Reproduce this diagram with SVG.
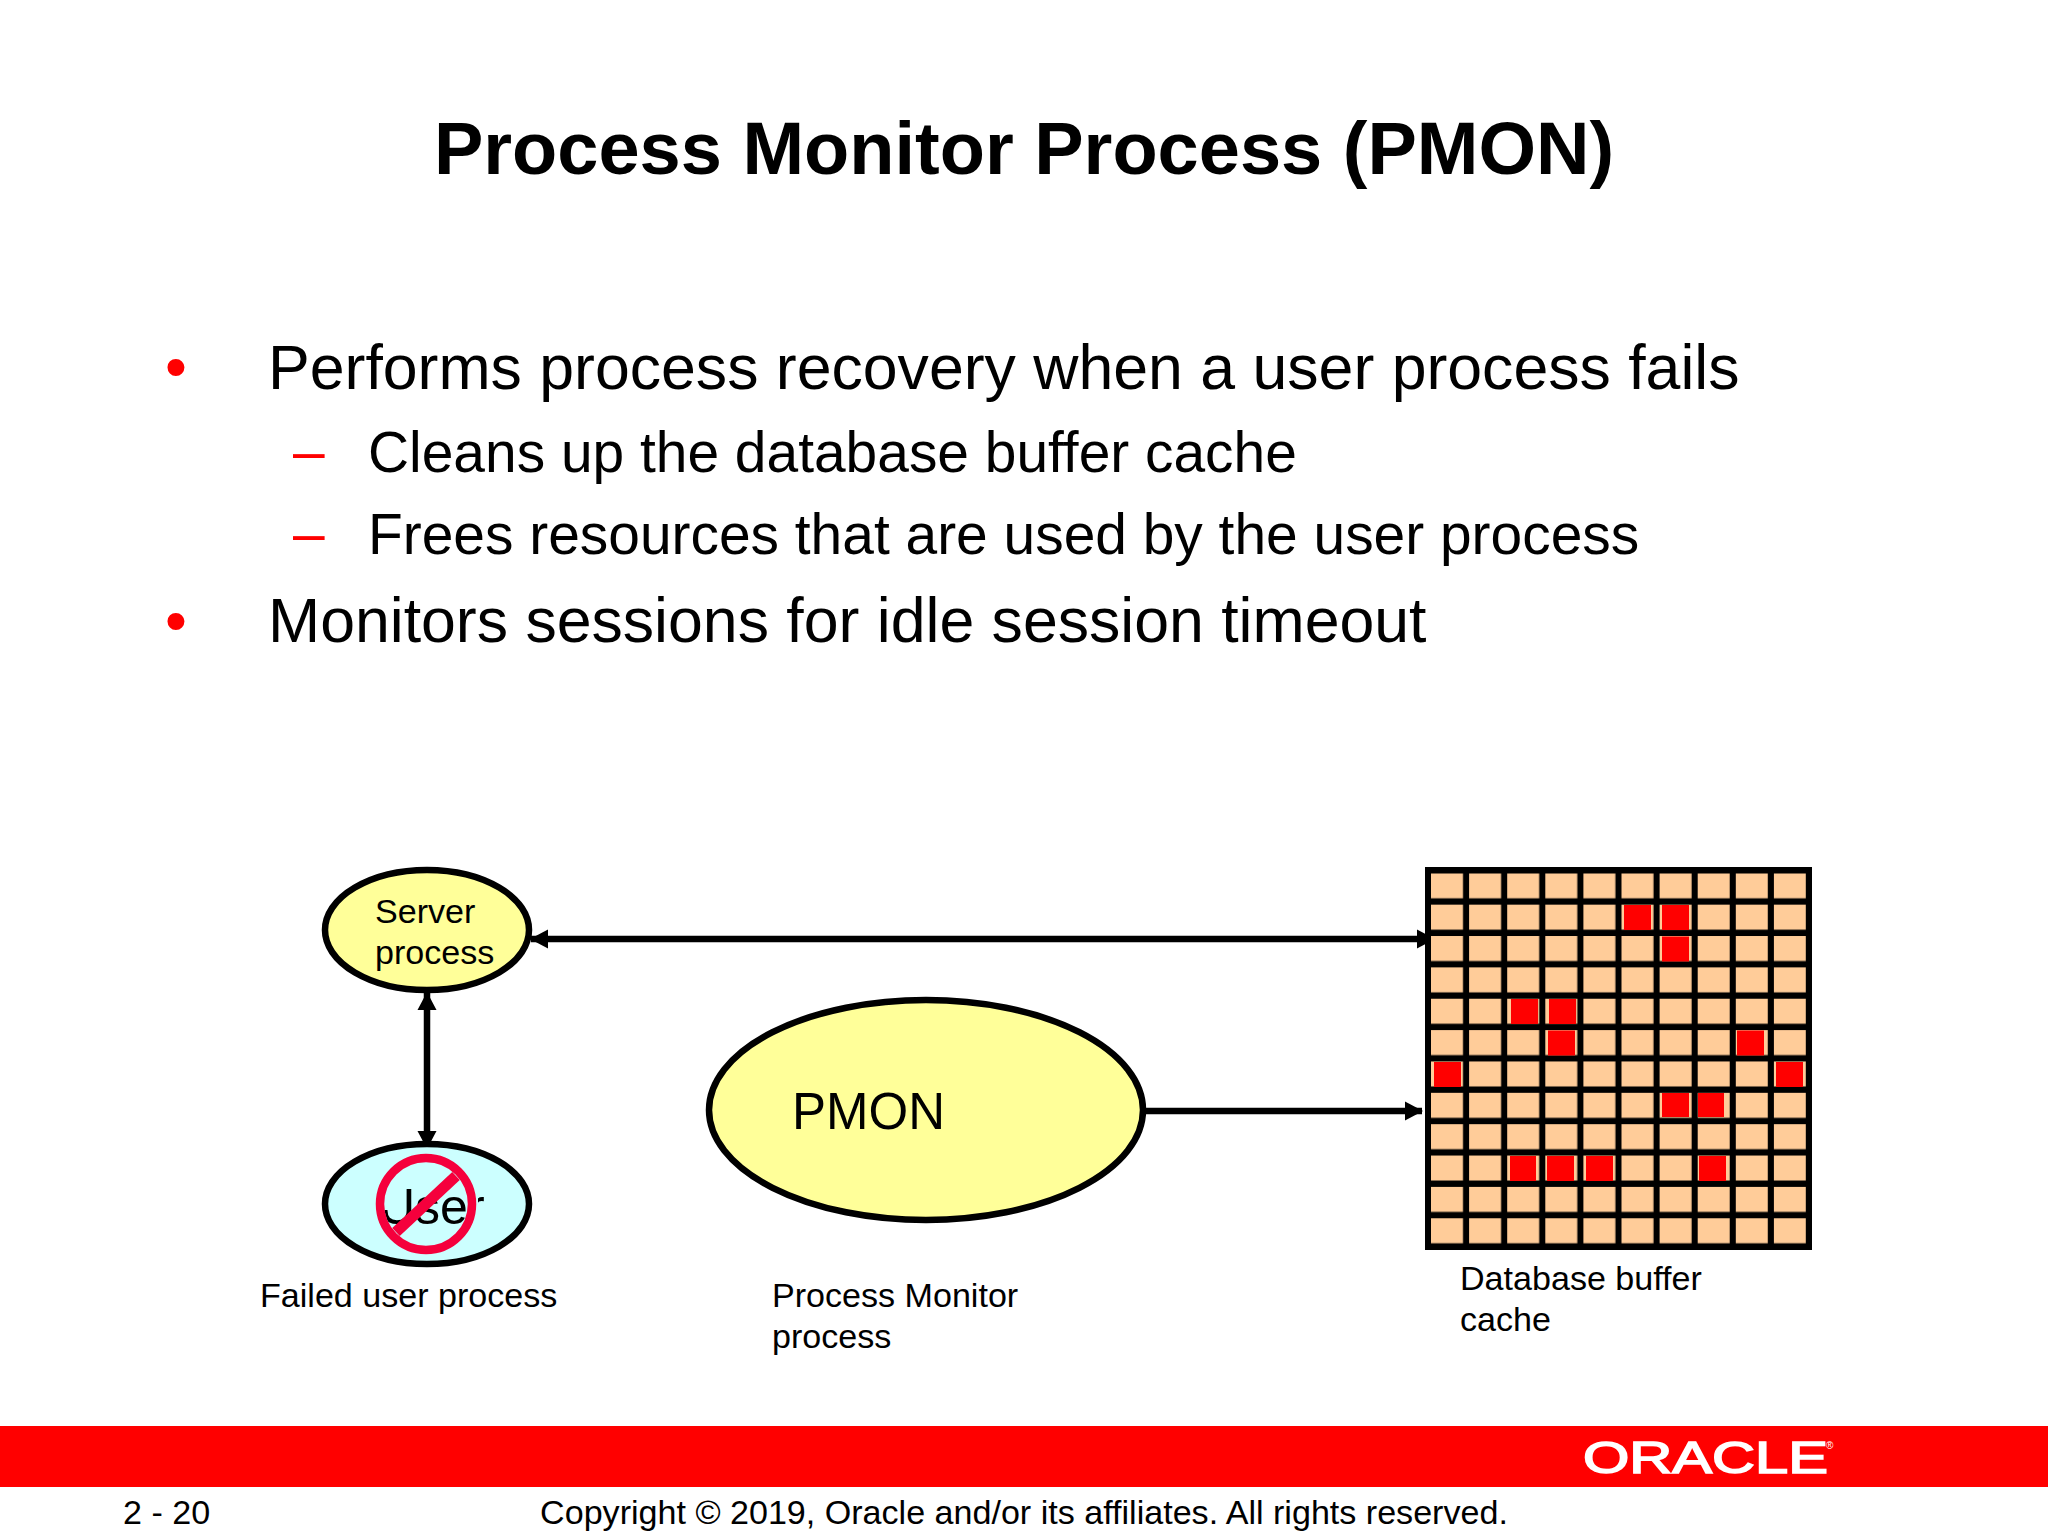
<svg xmlns="http://www.w3.org/2000/svg" width="2048" height="1536" viewBox="0 0 2048 1536">
<defs>
<style>
text{font-family:"Liberation Sans",Arial,sans-serif;fill:#000}
.title{font-size:74px;font-weight:bold}
.b1{font-size:62.6px}
.b2{font-size:56.9px}
.red{fill:#f00}
.lab{font-size:34.1px}
.node{stroke:#000;stroke-width:6.5}
.conn{stroke:#000;fill:none;stroke-width:6.5}
.r{fill:#f00}
</style>
<marker id="ah" markerUnits="userSpaceOnUse" markerWidth="20" markerHeight="22" refX="17" refY="11" orient="auto-start-reverse"><path d="M0 1.5L18 11L0 20.5Z" fill="#000"/></marker>
<pattern id="cells" patternUnits="userSpaceOnUse" x="1431" y="873.3" width="38.1" height="31.36"><rect width="32" height="25" fill="#ffcc99"/></pattern>
</defs>
<rect width="2048" height="1536" fill="#fff"/>
<text class="title" x="1024" y="174" text-anchor="middle">Process Monitor Process (PMON)</text>
<g id="bullets">
<text class="b1 red" x="165" y="388">•</text><text class="b1" x="268" y="388.5">Performs process recovery when a user process fails</text>
<text class="b2 red" x="293" y="471">–</text><text class="b2" x="368" y="471.5">Cleans up the database buffer cache</text>
<text class="b2 red" x="293" y="553">–</text><text class="b2" x="368" y="553.5">Frees resources that are used by the user process</text>
<text class="b1 red" x="165" y="642">•</text><text class="b1" x="268" y="642">Monitors sessions for idle session timeout</text>
</g>
<g id="connectors">
<line class="conn" x1="531" y1="939" x2="1434" y2="939" marker-start="url(#ah)" marker-end="url(#ah)"/>
<line class="conn" x1="427" y1="993" x2="427" y2="1148" marker-start="url(#ah)" marker-end="url(#ah)"/>
<line class="conn" x1="1145" y1="1111" x2="1422" y2="1111" marker-end="url(#ah)"/>
</g>
<g id="server-process">
<ellipse class="node" cx="427" cy="930" rx="102" ry="60" fill="#ffff99"/>
<text class="lab" x="375" y="923">Server</text><text class="lab" x="375" y="964">process</text>
</g>
<g id="user-process">
<ellipse cx="427" cy="1204" rx="102" ry="60" fill="#ccffff"/>
<text x="379" y="1224" style="font-size:50px">User</text>
<path fill="#ccffff" fill-rule="evenodd" d="M376 1152H478V1256H376ZM426 1162a42 42 0 1 0 .01 0Z"/>
<rect x="380" y="1180" width="11" height="30" fill="#ccffff"/>
<ellipse class="node" cx="427" cy="1204" rx="102" ry="60" fill="none"/>
<circle cx="426" cy="1204" r="46" fill="none" stroke="#f5003c" stroke-width="8.5"/>
<line x1="396" y1="1232" x2="456" y2="1176" stroke="#f5003c" stroke-width="11"/>
<text class="lab" x="260" y="1307">Failed user process</text>
</g>
<g id="pmon">
<ellipse class="node" cx="926" cy="1110" rx="217" ry="110" fill="#ffff99"/>
<text x="792" y="1129" style="font-size:51px">PMON</text>
<text class="lab" x="772" y="1307">Process Monitor</text><text class="lab" x="772" y="1348">process</text>
</g>
<g id="buffer-cache">
<rect x="1425" y="867" width="387" height="383" fill="#000"/>
<rect x="1431" y="873.3" width="375" height="371" fill="url(#cells)"/>
<g class="r">
<rect x="1624" y="905" width="27" height="25"/><rect x="1662" y="905" width="27" height="25"/>
<rect x="1662" y="936.5" width="27" height="25"/>
<rect x="1511" y="999" width="27" height="25"/><rect x="1549" y="999" width="27" height="25"/>
<rect x="1548" y="1030.5" width="27" height="25"/><rect x="1737" y="1030.5" width="27" height="25"/>
<rect x="1434" y="1062" width="27" height="25"/><rect x="1776" y="1062" width="27" height="25"/>
<rect x="1662" y="1093" width="27" height="24"/><rect x="1698" y="1093" width="26" height="24"/>
<rect x="1510" y="1156" width="26" height="25"/><rect x="1547" y="1156" width="27" height="25"/><rect x="1586" y="1156" width="27" height="25"/><rect x="1699" y="1156" width="27" height="25"/>
</g>
<text class="lab" x="1460" y="1290">Database buffer</text><text class="lab" x="1460" y="1331">cache</text>
</g>
<g id="footer">
<rect y="1426" width="2048" height="61" fill="#f00"/>
<text x="1583" y="1473" textLength="245" lengthAdjust="spacingAndGlyphs" style="font-size:45px;fill:#fff;stroke:#fff;stroke-width:1.6">ORACLE</text>
<text x="1826" y="1449" style="font-size:10px;fill:#fff">®</text>
<text x="123" y="1524" class="lab">2 - 20</text>
<text x="1024" y="1524" text-anchor="middle" class="lab">Copyright © 2019, Oracle and/or its affiliates. All rights reserved.</text>
</g>
</svg>
